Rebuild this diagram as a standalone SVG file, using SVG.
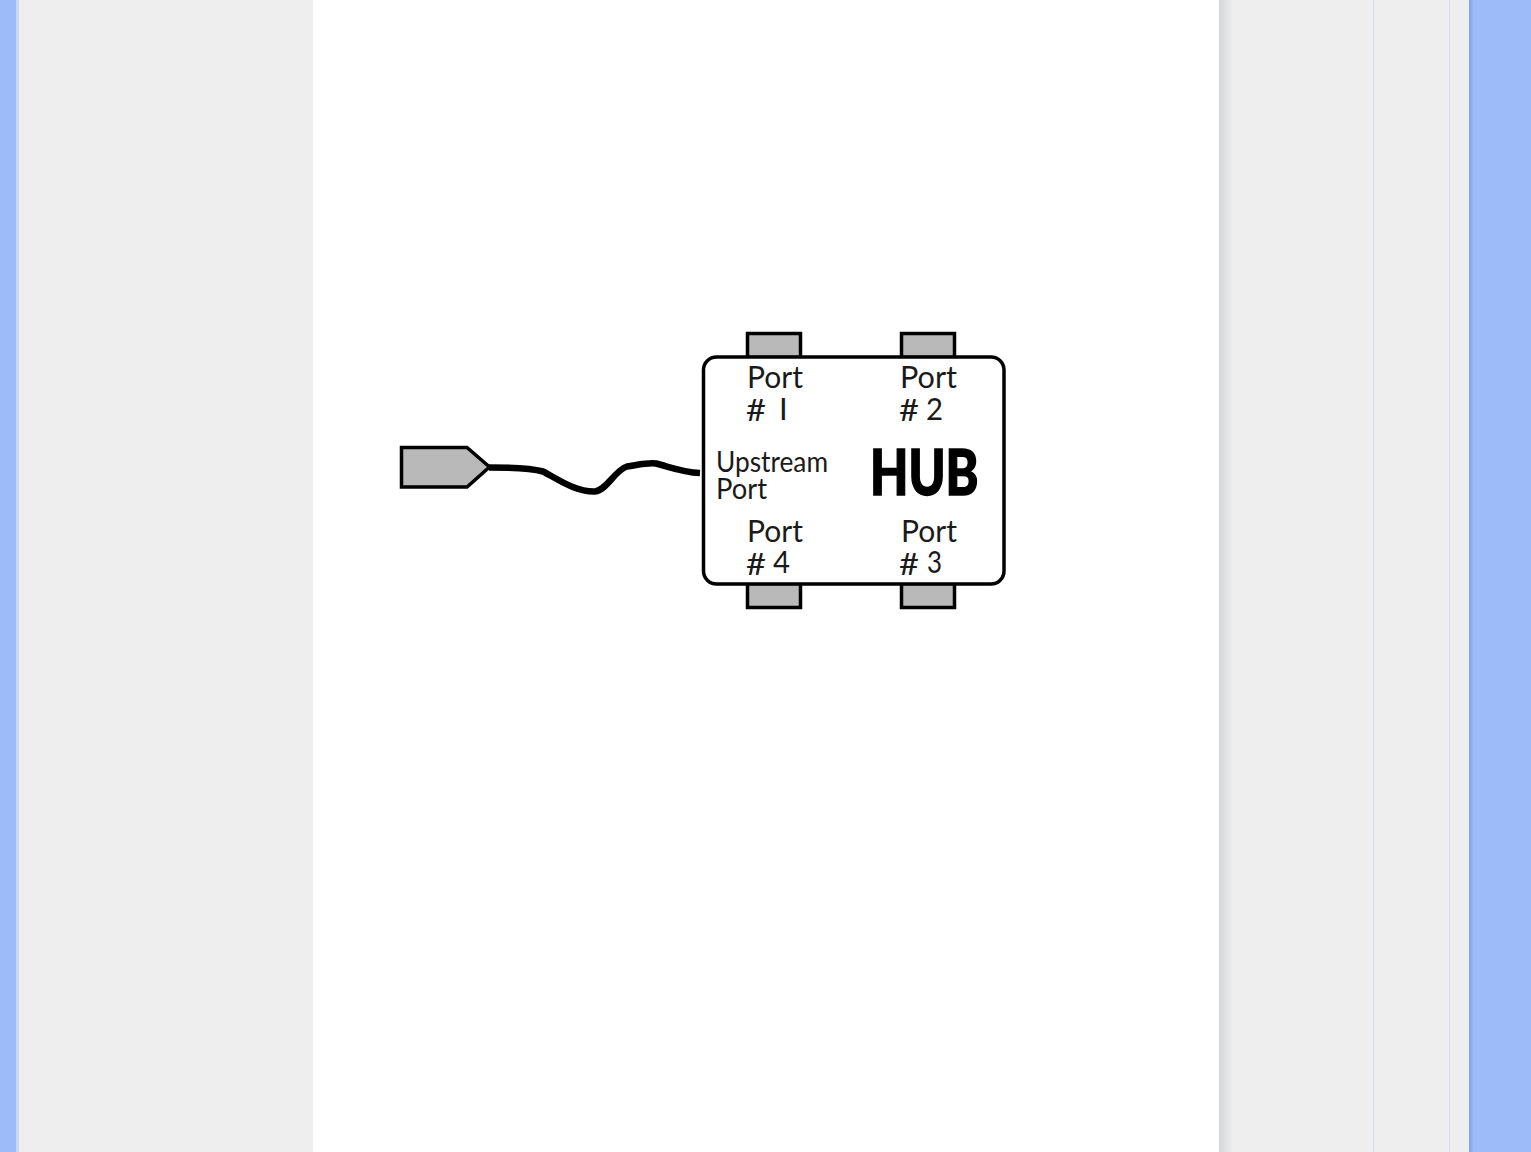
<svg xmlns="http://www.w3.org/2000/svg" width="1531" height="1152" viewBox="0 0 1531 1152">
<style>
.s{stroke:#000;stroke-width:3.500;fill:#b9b9b9}
.t{font-family:Lato,"Liberation Sans",sans-serif;fill:#1a1a1a}
.p{font-size:31px}
.u{font-size:28px}
.h{font-size:62px;font-weight:900;fill:#000;stroke:#000;stroke-width:1.500}
</style>
<defs>
<linearGradient id="sh" x1="0" x2="1" y1="0" y2="0"><stop offset="0" stop-color="#d4d6da"/><stop offset="1" stop-color="#eeeeee"/></linearGradient>
<linearGradient id="bl" x1="0" x2="1" y1="0" y2="0"><stop offset="0" stop-color="#7f9fe8"/><stop offset="1" stop-color="#9cbbf8"/></linearGradient>
</defs>
<g id="page">
<rect width="1531" height="1152" fill="#eeeeee"/>
<rect x="0" y="0" width="16" height="1152" fill="#9cbbf8"/>
<rect x="16" y="0" width="3" height="1152" fill="#c9d8f5"/>
<rect x="313" y="0" width="906" height="1152" fill="#fff"/>
<rect x="1219" y="0" width="14" height="1152" fill="url(#sh)"/>
<rect x="1373" y="0" width="1" height="1152" fill="#d5dcea"/>
<rect x="1449" y="0" width="1" height="1152" fill="#d5dcea"/>
<rect x="1469" y="0" width="5" height="1152" fill="url(#bl)"/>
<rect x="1474" y="0" width="57" height="1152" fill="#9cbbf8"/>
</g>
<g id="connectors">
<path d="M489 467.500C505 467.500 530 468 543 471.500C556 478 575 492 595 491.500C607 490 615 470 627 466.500C640 464.500 648 462.500 656 463.500C670 467 682 472 700 473" fill="none" stroke="#000" stroke-width="6.500"/>
</g>
<g id="plug"><path class="s" d="M401.500 447.500H467L489.500 467L467 487H401.500Z"/></g>
<g id="port1-tab"><rect class="s" x="747.500" y="333.500" width="53" height="24"/></g>
<g id="port2-tab"><rect class="s" x="901.500" y="333.500" width="53" height="24"/></g>
<g id="port4-tab"><rect class="s" x="747.500" y="583.500" width="53" height="24"/></g>
<g id="port3-tab"><rect class="s" x="901.500" y="583.500" width="53" height="24"/></g>
<g id="hub">
<rect x="703.500" y="357" width="300.500" height="227" rx="13" fill="#fff" stroke="#000" stroke-width="3.500"/>
<text class="t p" x="747" y="388" textLength="56" lengthAdjust="spacingAndGlyphs">Port</text>
<text class="t p" x="746" y="421" textLength="20" lengthAdjust="spacingAndGlyphs">#</text><text class="t p" x="779" y="420">I</text>
<text class="t p" x="900" y="388" textLength="57" lengthAdjust="spacingAndGlyphs">Port</text>
<text class="t p" x="899" y="421" textLength="20" lengthAdjust="spacingAndGlyphs">#</text><text class="t p" x="926" y="420" textLength="17" lengthAdjust="spacingAndGlyphs">2</text>
<text class="t u" x="716" y="472" textLength="112" lengthAdjust="spacingAndGlyphs">Upstream</text>
<text class="t u" x="716" y="499" textLength="51" lengthAdjust="spacingAndGlyphs">Port</text>
<text class="t h" x="870" y="494.500" textLength="108.500" lengthAdjust="spacingAndGlyphs">HUB</text>
<text class="t p" x="747" y="542" textLength="56" lengthAdjust="spacingAndGlyphs">Port</text>
<text class="t p" x="746" y="575" textLength="20" lengthAdjust="spacingAndGlyphs">#</text><text class="t p" x="773" y="573" textLength="17" lengthAdjust="spacingAndGlyphs">4</text>
<text class="t p" x="901" y="542" textLength="56" lengthAdjust="spacingAndGlyphs">Port</text>
<text class="t p" x="899" y="575" textLength="20" lengthAdjust="spacingAndGlyphs">#</text><text class="t p" x="927" y="573" textLength="15" lengthAdjust="spacingAndGlyphs">3</text>
</g>
</svg>
